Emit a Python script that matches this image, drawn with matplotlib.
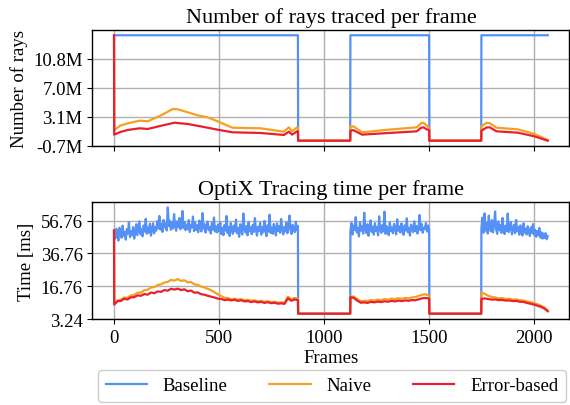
import numpy as np
import matplotlib
matplotlib.use("Agg")
import matplotlib.pyplot as plt
from matplotlib.ticker import FuncFormatter

plt.rcParams['font.family'] = ['Liberation Serif', 'DejaVu Serif']
plt.rcParams['axes.linewidth'] = 1.0

# ---------------- data ----------------
series_names = ["Baseline", "Naive", "Error-based"]
series_colors = ["#5590F7", "#F5A020", "#E8202E"]

full_rays_M = 13.95           # rays per frame when everything is traced (millions)
# active segments of the sequence (first frame, last frame); between them nothing is traced
seg_bounds = [(1, 876), (1126, 1501), (1750, 2066)]
gap_bounds = [(877, 1125), (1502, 1749)]

# --- number of rays (millions), key frames of the smooth curves ---
naive_rays_frames = [0, 1, 30, 66, 122, 161, 220, 280, 303, 351, 398, 445, 493, 564, 698, 809, 833, 848, 872, 876,
                     877, 1125, 1126, 1140, 1182, 1308, 1442, 1462, 1474, 1490, 1501,
                     1502, 1749, 1750, 1775, 1790, 1822, 1924, 2003, 2066]
naive_rays_M = [13.95, 1.42, 2.0, 2.3, 2.65, 2.57, 3.3, 4.2, 4.16, 3.76, 3.36, 3.1, 2.57, 1.72, 1.64, 1.19, 1.77, 1.24, 1.77, 1.7,
                0.0, 0.0, 1.85, 1.9, 1.11, 1.46, 1.77, 2.3, 2.38, 2.0, 1.7,
                0.0, 0.0, 1.9, 2.38, 2.3, 1.72, 1.5, 0.89, 0.09]
error_rays_frames = [0, 1, 30, 66, 122, 161, 220, 288, 351, 412, 493, 564, 698, 809, 833, 848, 872, 876,
                     877, 1125, 1126, 1140, 1182, 1308, 1442, 1462, 1474, 1490, 1501,
                     1502, 1749, 1750, 1775, 1790, 1822, 1924, 2003, 2066]
error_rays_M = [13.95, 0.8, 1.15, 1.42, 1.64, 1.55, 1.95, 2.38, 2.21, 1.9, 1.46, 1.11, 1.02, 0.76, 1.19, 0.8, 1.24, 1.24,
                0.0, 0.0, 1.32, 1.4, 0.8, 1.02, 1.24, 1.7, 1.77, 1.5, 1.41,
                0.0, 0.0, 1.32, 1.75, 1.77, 1.24, 1.06, 0.58, 0.0]

# --- OptiX tracing time (ms) ---
first_frame_ms = [50.5, 50.8, 50.8]   # Baseline, Naive, Error-based at frame 0
gap_ms = 0.0

baseline_ms_seg1 = [
    50.5, 45.9, 51.8, 47.2, 44.6, 52.4, 48.1, 46.3, 53.7, 47.5, 49.8, 45.2, 51.6, 48.9, 55.8, 46.7, 50.2, 47.8, 52.9, 45.8,
    49.3, 54.6, 47.9, 52.1, 56.3, 48.4, 51.7, 47.2, 53.8, 50.1, 57.9, 48.8, 52.6, 49.4, 54.9, 47.6, 51.3, 55.2, 49.0, 52.8,
    50.7, 56.4, 52.1, 59.6, 51.3, 54.8, 49.9, 57.2, 52.6, 55.1, 50.8, 64.9, 53.4, 56.7, 51.2, 55.9, 52.0, 60.8, 53.7, 50.6,
    56.3, 52.9, 58.4, 51.5, 54.6, 62.7, 52.2, 55.8, 50.9, 54.3,
    51.6, 57.1, 49.8, 54.2, 52.7, 59.3, 50.4, 55.6, 51.1, 53.9, 49.7, 56.8, 52.4, 50.2, 61.4, 51.8, 54.7, 49.5, 53.6, 56.2,
    50.9, 52.8, 48.9, 55.4, 51.3, 58.7, 50.1, 53.2, 49.6, 54.5,
    50.3, 55.7, 48.6, 52.4, 47.9, 54.1, 50.8, 59.6, 49.2, 52.9, 47.4, 55.3, 51.6, 48.7, 53.8, 50.2, 57.4, 49.1, 52.3, 46.9,
    54.6, 50.7, 48.3, 61.2, 51.9, 49.6, 53.5, 47.8, 55.9, 50.4, 52.7, 48.5, 54.2, 49.9, 58.3, 51.2, 47.6, 53.1, 50.6, 55.4,
    48.2, 52.8, 49.7, 56.6, 51.4, 47.3, 53.9, 50.1, 60.4, 49.3, 52.5, 48.8, 54.7, 51.0, 47.7, 55.1, 50.5, 53.3, 49.4, 57.8,
    51.7, 48.4, 52.9, 50.2, 55.6, 49.1, 53.4, 59.9, 50.8, 48.6, 54.2, 51.3, 49.7, 56.1, 50.9, 53.6]
baseline_ms_seg2 = [
    50.2, 55.4, 48.3, 53.7, 51.1, 58.9, 49.6, 52.4, 47.1, 55.8, 50.7, 53.2, 48.8, 61.6, 51.3, 49.2, 54.6, 47.5, 52.8, 56.9,
    49.9, 53.1, 48.2, 55.2, 50.5, 52.7, 47.8, 59.4, 51.6, 49.3, 54.1, 50.2, 62.3, 48.7, 53.5, 51.4, 47.9, 55.7, 50.3, 52.6,
    49.1, 54.8, 51.8, 48.4, 57.6, 50.6, 53.3, 49.5, 55.1, 51.2, 48.1, 53.9, 50.8, 58.2, 49.7, 52.2, 47.6, 54.4, 51.5, 49.8,
    56.3, 50.4, 53.6, 48.9, 52.1, 60.2, 50.9, 54.7, 49.4, 52.5, 51.7, 55.3, 50.1, 53.8, 51.9]
baseline_ms_seg3 = [
    52.1, 58.6, 49.4, 61.2, 50.7, 55.3, 48.9, 59.8, 52.4, 50.2, 57.1, 49.6, 53.8, 62.4, 51.5, 48.7, 56.2, 50.9, 54.1, 49.3,
    58.4, 51.8, 48.6, 53.7, 50.4, 61.1, 49.8, 52.6, 55.9, 48.4, 51.7, 54.3, 49.1, 57.2, 50.3, 52.8, 48.2, 53.9, 50.6, 47.7,
    55.1, 49.5, 51.9, 48.3, 53.4, 50.1, 47.4, 52.7, 49.2, 54.6, 48.1, 51.2, 46.9, 50.4, 47.8, 52.3, 46.5, 49.6, 45.8, 48.9,
    46.2, 49.1, 45.4, 47.3]

naive_ms_seg1 = [
    6.0, 8.1, 8.6, 9.9, 9.7, 11.1, 11.5, 12.8, 12.9, 14.3,
    14.6, 16.0, 16.2, 17.5, 17.9, 19.0, 19.4, 20.6, 20.2, 21.1,
    20.0, 20.4, 19.1, 19.3, 17.9, 17.6, 16.6, 16.0, 15.2, 14.3,
    13.1, 11.9, 10.8, 9.7, 9.6, 8.8, 9.1, 8.6, 8.9, 8.2,
    8.5, 7.9, 8.2, 7.6, 7.9, 7.3, 7.6, 7.0, 7.3, 6.8,
    7.0, 6.7, 10.4, 8.8, 9.6, 9.2]
naive_ms_seg2 = [
    10.7, 10.4, 8.9, 7.6, 7.9, 7.7, 8.3, 8.0, 8.6, 8.3,
    8.9, 8.6, 9.2, 8.9, 9.4, 9.1, 9.6, 9.4, 9.9, 10.1,
    10.9, 11.6, 11.9, 10.8]
naive_ms_seg3 = [13.0, 12.1, 10.8, 10.2, 9.9, 9.4, 9.5, 9.0, 9.1, 8.6,
                 8.7, 8.2, 8.1, 7.5, 7.0, 6.5, 5.8, 5.0, 3.9, 2.0]

error_ms_seg1 = [
    5.6, 7.6, 7.8, 9.1, 8.7, 10.0, 10.1, 11.2, 10.9, 12.0,
    11.6, 12.9, 12.5, 13.6, 13.3, 14.4, 14.0, 15.2, 14.7, 15.3,
    14.4, 14.9, 13.7, 14.1, 12.8, 13.0, 11.9, 11.6, 10.9, 10.4,
    9.9, 9.2, 9.0, 8.3, 8.6, 8.1, 8.5, 7.8, 8.2, 7.5,
    7.7, 7.1, 7.5, 6.9, 7.2, 6.6, 7.0, 6.4, 6.7, 6.1,
    6.3, 6.0, 9.4, 7.9, 8.7, 8.3]
error_ms_seg2 = [
    10.1, 9.6, 8.0, 6.7, 6.9, 6.6, 7.2, 6.9, 7.4, 7.1,
    7.6, 7.3, 7.8, 7.5, 8.0, 7.7, 8.1, 7.9, 8.3, 8.2,
    8.8, 9.4, 9.6, 9.2]
error_ms_seg3 = [9.1, 9.3, 8.9, 8.6, 8.7, 8.3, 8.4, 8.0, 8.1, 7.7,
                 7.8, 7.3, 7.2, 6.6, 6.1, 5.6, 4.9, 4.2, 3.2, 1.5]

rays_tick_count = 5
time_ticks = [-3.24, 16.76, 36.76, 56.76]
time_tick_labels = ["3.24", "16.76", "36.76", "56.76"]
frame_ticks = [0, 500, 1000, 1500, 2000]


def build_time_series(first_value, segments):
    xs, ys = [np.array([0.0])], [np.array([first_value])]
    for i, (vals, (a, b)) in enumerate(zip(segments, seg_bounds)):
        xs.append(np.linspace(a, b, len(vals)))
        ys.append(np.asarray(vals, float))
        if i < len(gap_bounds):
            g0, g1 = gap_bounds[i]
            xs.append(np.array([g0, g1], float))
            ys.append(np.array([gap_ms, gap_ms]))
    return np.concatenate(xs), np.concatenate(ys)


def build_baseline_rays():
    xs, ys = [], []
    starts = [0] + [s[0] for s in seg_bounds[1:]]
    for i, (a, b) in enumerate(seg_bounds):
        xs += [starts[i], b]
        ys += [full_rays_M, full_rays_M]
        if i < len(gap_bounds):
            g0, g1 = gap_bounds[i]
            xs += [g0, g1]
            ys += [0.0, 0.0]
    return np.array(xs, float), np.array(ys)


# ---------------- figure ----------------
fig = plt.figure(figsize=(5.70, 4.06), dpi=100)
ax1 = fig.add_axes([0.162, 0.638, 0.837, 0.2857])
ax2 = fig.add_axes([0.162, 0.2118, 0.837, 0.2882], sharex=ax1)

FS = 13.5
lw = 1.6

# top: rays
bx, by = build_baseline_rays()
ax1.plot(bx, by * 1e6, color=series_colors[0], lw=lw, label=series_names[0])
ax1.plot(naive_rays_frames, np.array(naive_rays_M) * 1e6, color=series_colors[1], lw=lw, label=series_names[1])
ax1.plot(error_rays_frames, np.array(error_rays_M) * 1e6, color=series_colors[2], lw=lw, label=series_names[2])
ax1.set_title("Number of rays traced per frame", fontsize=16, pad=6)
ax1.set_ylabel("Number of rays", fontsize=FS)
y0, y1 = ax1.get_ylim()
ax1.set_yticks(np.linspace(y0, y1, rays_tick_count)[:-1])
ax1.set_ylim(y0, y1)
ax1.yaxis.set_major_formatter(FuncFormatter(lambda v, p: f"{v/1e6:.1f}M"))
ax1.tick_params(labelbottom=False)

# bottom: time
series_ms = [
    (baseline_ms_seg1, baseline_ms_seg2, baseline_ms_seg3),
    (naive_ms_seg1, naive_ms_seg2, naive_ms_seg3),
    (error_ms_seg1, error_ms_seg2, error_ms_seg3),
]
for k in range(3):
    x, y = build_time_series(first_frame_ms[k], series_ms[k])
    ax2.plot(x, y, color=series_colors[k], lw=lw)
ax2.set_title("OptiX Tracing time per frame", fontsize=16, pad=6)
ax2.set_ylabel("Time [ms]", fontsize=FS)
ax2.set_xlabel("Frames", fontsize=FS, labelpad=2)
ax2.set_yticks(time_ticks)
ax2.set_yticklabels(time_tick_labels)
ax2.set_xticks(frame_ticks)

for ax in (ax1, ax2):
    ax.grid(True, color="#b0b0b0", lw=1.0)
    ax.set_axisbelow(True)
    ax.tick_params(labelsize=FS)

fig.legend(handles=ax1.get_lines(), labels=series_names, loc="lower left",
           bbox_to_anchor=(0.172, 0.0074, 0.821, 0.076), mode="expand", ncol=3,
           fontsize=FS, handlelength=2.2, handletextpad=0.85, borderaxespad=0.0,
           fancybox=True, framealpha=1.0, edgecolor="#cccccc")

fig.savefig("out.png", dpi=100)
